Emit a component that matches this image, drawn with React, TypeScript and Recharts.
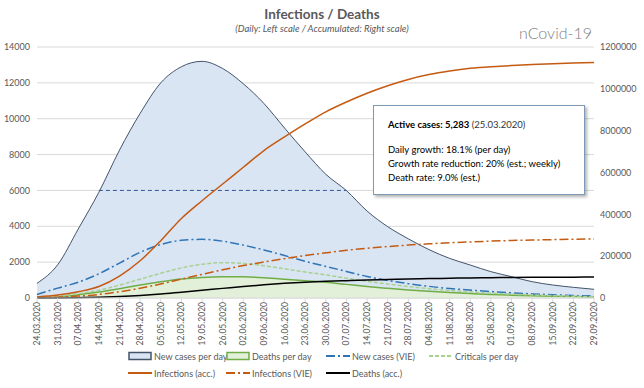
import { ComposedChart, Area, Line, XAxis, YAxis, CartesianGrid, Legend } from "recharts";

const dates = [
  "24.03.2020", "31.03.2020", "07.04.2020", "14.04.2020", "21.04.2020", "28.04.2020", "05.05.2020",
  "12.05.2020", "19.05.2020", "26.05.2020", "02.06.2020", "09.06.2020", "16.06.2020", "23.06.2020",
  "30.06.2020", "07.07.2020", "14.07.2020", "21.07.2020", "28.07.2020", "04.08.2020", "11.08.2020",
  "18.08.2020", "25.08.2020", "01.09.2020", "08.09.2020", "15.09.2020", "22.09.2020", "29.09.2020",
];

// daily values (left scale)
const newCasesPerDay = [820, 1850, 3850, 5900, 8250, 10300, 12000, 12900, 13200, 12800, 11950, 10850, 9480, 8150, 6900, 5990, 4850, 3980, 3300, 2700, 2210, 1840, 1470, 1190, 910, 725, 595, 485];
const deathsPerDay = [10, 60, 180, 330, 520, 720, 900, 1060, 1150, 1190, 1180, 1130, 1050, 960, 880, 760, 640, 540, 450, 370, 300, 250, 200, 160, 130, 100, 80, 60];
const newCasesVie = [200, 550, 880, 1350, 1950, 2550, 2980, 3220, 3270, 3170, 2950, 2680, 2370, 2050, 1760, 1480, 1200, 980, 800, 650, 530, 440, 360, 290, 230, 180, 140, 110];
const criticalsPerDay = [30, 110, 250, 430, 720, 1050, 1380, 1680, 1880, 1970, 1930, 1800, 1630, 1450, 1290, 1100, 930, 780, 640, 520, 420, 340, 270, 215, 170, 130, 100, 75];
const capacity = [null, null, null, 6000, 6000, 6000, 6000, 6000, 6000, 6000, 6000, 6000, 6000, 6000, 6000, 6000, null, null, null, null, null, null, null, null, null, null, null, null];

// accumulated values (right scale)
const infectionsAcc = [5300, 14000, 30000, 55000, 105000, 178000, 274000, 380000, 465000, 545000, 625000, 705000, 770000, 832000, 890000, 937000, 979000, 1015000, 1045000, 1068000, 1085000, 1098000, 1106000, 1111000, 1116000, 1120000, 1123000, 1126000];
const infectionsVie = [1500, 4000, 9000, 17000, 30000, 47000, 67000, 90000, 113000, 135000, 155000, 172000, 188000, 203000, 216000, 228000, 238000, 246000, 253000, 259000, 264000, 268000, 272000, 275000, 277000, 279000, 281000, 282000];
const deathsAcc = [0, 500, 1500, 3500, 7000, 12000, 19000, 28000, 37000, 46000, 55000, 63000, 70000, 75500, 80000, 83000, 86000, 88500, 90800, 92800, 94500, 96000, 97200, 98200, 99000, 99500, 99800, 100000];

const leftTicks = [0, 2000, 4000, 6000, 8000, 10000, 12000, 14000];
const rightTicks = [0, 200000, 400000, 600000, 800000, 1000000, 1200000];

const data = dates.map((d, i) => ({
  date: d,
  newCases: newCasesPerDay[i],
  deathsDay: deathsPerDay[i],
  newCasesVie: newCasesVie[i],
  criticals: criticalsPerDay[i],
  capacity: capacity[i],
  infectionsAcc: infectionsAcc[i],
  infectionsVie: infectionsVie[i],
  deathsAcc: deathsAcc[i],
}));

const GRAY = "#595959";
const FONT = "Lato, 'Liberation Sans', sans-serif";

const DateTick = (props: any) => {
  const { x, y, payload } = props;
  return (
    <g transform={`translate(${x},${y})`}>
      <text transform="rotate(-90)" textAnchor="end" dy="0.35em" fontSize={8.5} fill={GRAY}>
        {payload.value}
      </text>
    </g>
  );
};

const legendRows = [
  ["newCases", "deathsDay", "newCasesVie", "criticals"],
  ["infectionsAcc", "infectionsVie", "deathsAcc"],
];
const legendCols = [128, 226, 326, 429];
const legendRowY = [356, 373];

function LegendIcon({ item }: { item: any }) {
  const p = item.payload || {};
  if (item.type === "rect") {
    return (
      <svg width={24} height={10}>
        <rect x={1} y={1.5} width={22} height={7} fill={p.fill} stroke={p.stroke} strokeWidth={1.5} />
      </svg>
    );
  }
  return (
    <svg width={24} height={10}>
      <line x1={0} y1={5} x2={24} y2={5} stroke={p.stroke} strokeWidth={2} strokeDasharray={p.strokeDasharray} />
    </svg>
  );
}

function ChartLegend(props: any) {
  const items: any[] = props.payload || [];
  const byKey: Record<string, any> = {};
  items.forEach((it) => (byKey[it.dataKey] = it));
  return (
    <div style={{ position: "relative", width: 644, height: 36 }}>
      {legendRows.map((row, r) =>
        row.map((key, c) => {
          const it = byKey[key];
          if (!it) return null;
          return (
            <div
              key={key}
              style={{
                position: "absolute",
                left: legendCols[c],
                top: legendRowY[r] - 348 - 6,
                height: 12,
                display: "flex",
                alignItems: "center",
                gap: 2,
                fontSize: 9,
                color: GRAY,
                whiteSpace: "nowrap",
              }}
            >
              <LegendIcon item={it} />
              <span>{it.value}</span>
            </div>
          );
        })
      )}
    </div>
  );
}

export default function App() {
  return (
    <div style={{ position: "absolute", left: 0, top: 0, width: 644, height: 388, background: "#fff", fontFamily: FONT }}>
      <ComposedChart width={644} height={388} data={data} margin={{ top: 47, right: 6, bottom: 42, left: 7 }}>
        <CartesianGrid yAxisId="left" vertical={false} stroke="#D9D9D9" />
        <XAxis
          dataKey="date"
          interval={0}
          tick={<DateTick />}
          tickSize={4}
          tickMargin={0}
          height={48}
          axisLine={{ stroke: "#D9D9D9" }}
          tickLine={{ stroke: "#D9D9D9" }}
        />
        <YAxis
          yAxisId="left"
          domain={[0, 14000]}
          ticks={leftTicks}
          width={30}
          axisLine={false}
          tickLine={false}
          tickSize={0}
          tickMargin={7}
          tick={{ fontSize: 9, fill: GRAY }}
        />
        <YAxis
          yAxisId="right"
          orientation="right"
          domain={[0, 1200000]}
          ticks={rightTicks}
          width={44}
          axisLine={false}
          tickLine={false}
          tickSize={0}
          tickMargin={6}
          tick={{ fontSize: 9, fill: GRAY }}
        />
        <Area yAxisId="left" type="monotone" dataKey="newCases" name="New cases per day" fill="#DAE5F4" fillOpacity={1} stroke="#44546A" strokeWidth={1} legendType="rect" isAnimationActive={false} />
        <Area yAxisId="left" type="monotone" dataKey="deathsDay" name="Deaths per day" fill="#E2F0D9" fillOpacity={1} stroke="#70AD47" strokeWidth={1.5} legendType="rect" isAnimationActive={false} />
        <Line yAxisId="left" type="linear" dataKey="capacity" stroke="#2F5597" strokeWidth={1} strokeDasharray="4 3" dot={false} legendType="none" isAnimationActive={false} />
        <Line yAxisId="left" type="monotone" dataKey="newCasesVie" name="New cases (VIE)" stroke="#2E75B6" strokeWidth={1.5} strokeDasharray="9 3 2 3" dot={false} isAnimationActive={false} />
        <Line yAxisId="left" type="monotone" dataKey="criticals" name="Criticals per day" stroke="#A9D18E" strokeWidth={1.5} strokeDasharray="4 2" dot={false} isAnimationActive={false} />
        <Line yAxisId="right" type="monotone" dataKey="infectionsVie" name="Infections (VIE)" stroke="#C55A11" strokeWidth={1.5} strokeDasharray="9 3 2 3" dot={false} isAnimationActive={false} />
        <Line yAxisId="right" type="monotone" dataKey="infectionsAcc" name="Infections (acc.)" stroke="#C55A11" strokeWidth={1.5} dot={false} isAnimationActive={false} />
        <Line yAxisId="right" type="monotone" dataKey="deathsAcc" name="Deaths (acc.)" stroke="#000000" strokeWidth={1.5} dot={false} isAnimationActive={false} />
        <Legend
          verticalAlign="middle"
          align="center"
          layout="horizontal"
          content={<ChartLegend />}
          wrapperStyle={{ top: 348, left: 0, width: 644, height: 36 }}
        />
      </ComposedChart>

      {/* titles */}
      <div style={{ position: "absolute", left: 0, width: 644, top: 6, textAlign: "center", fontSize: 13.5, fontWeight: 700, color: GRAY }}>
        Infections / Deaths
      </div>
      <div style={{ position: "absolute", left: 0, width: 644, top: 23, textAlign: "center", fontSize: 9.5, fontStyle: "italic", color: GRAY }}>
        (Daily: Left scale / Accumulated: Right scale)
      </div>
      <div style={{ position: "absolute", right: 52, top: 23, fontSize: 16, fontWeight: 300, color: "#7F7F7F" }}>
        nCovid-19
      </div>

      {/* annotation box */}
      <div
        style={{
          position: "absolute",
          left: 373,
          top: 105,
          width: 212,
          height: 90,
          boxSizing: "border-box",
          background: "#fff",
          border: "1.5px solid #7F98B5",
          boxShadow: "2px 2px 3px rgba(0,0,0,0.3)",
          padding: "12px 0 0 14px",
          fontSize: 9.5,
          lineHeight: "14px",
          color: "#000",
        }}
      >
        <div>
          <b>Active cases: 5,283</b> <span style={{ color: "#333" }}>(25.03.2020)</span>
        </div>
        <div style={{ marginTop: 11 }}>Daily growth: 18.1% (per day)</div>
        <div>Growth rate reduction: 20% (est.; weekly)</div>
        <div>Death rate: 9.0% (est.)</div>
      </div>
    </div>
  );
}
